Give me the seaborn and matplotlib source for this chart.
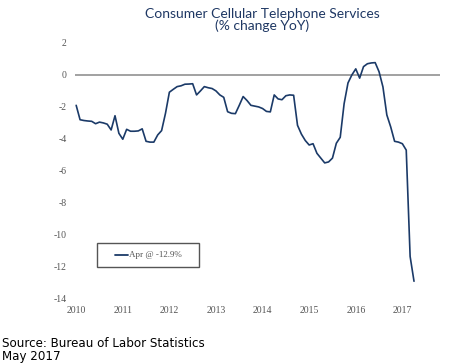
import numpy as np
import pandas as pd
import matplotlib
matplotlib.use("Agg")
import matplotlib.pyplot as plt
import seaborn as sns
from matplotlib.patches import Rectangle

# Monthly YoY % change, Jan 2010 .. Apr 2017
yoy = [
    -1.9, -2.8, -2.85, -2.88, -2.9, -3.05, -2.95, -3.0, -3.08, -3.44, -2.55, -3.65,   # 2010
    -4.02, -3.4, -3.52, -3.52, -3.5, -3.37, -4.15, -4.2, -4.2, -3.75, -3.48, -2.4,    # 2011
    -1.08, -0.9, -0.73, -0.68, -0.58, -0.57, -0.55, -1.25, -1.0, -0.73, -0.8, -0.85,  # 2012
    -1.0, -1.25, -1.4, -2.3, -2.4, -2.42, -1.9, -1.35, -1.6, -1.9, -1.95, -2.0,       # 2013
    -2.1, -2.28, -2.31, -1.25, -1.5, -1.55, -1.3, -1.25, -1.27, -3.15, -3.7, -4.1,    # 2014
    -4.38, -4.3, -4.9, -5.2, -5.5, -5.44, -5.2, -4.27, -3.9, -1.8, -0.5, 0.0,         # 2015
    0.38, -0.2, 0.52, 0.7, 0.75, 0.77, 0.2, -0.75, -2.5, -3.25, -4.15, -4.2,          # 2016
    -4.3, -4.7, -11.35, -12.9,                                                         # 2017
]
start_year = 2010
years = list(range(2010, 2018))
yticks = [2, 0, -2, -4, -6, -8, -10, -12, -14]
title = "Consumer Cellular Telephone Services\n(% change YoY)"
legend_label = "Apr @ -12.9%"
source = "Source: Bureau of Labor Statistics\nMay 2017"

t = [start_year + i / 12 for i in range(len(yoy))]
df = pd.DataFrame({"t": t, "yoy": yoy})

sns.set_theme(style="white")
plt.rcParams["font.family"] = ["DejaVu Sans"]

navy = "#1b3a68"
fig = plt.figure(figsize=(4.5, 3.64), dpi=100)
ax = fig.add_axes([0.167, 0.179, 0.811, 0.703])

ax.axhline(0, color="#9a9a9a", lw=1.3, zorder=1)
sns.lineplot(data=df, x="t", y="yoy", color=navy, lw=1.2, ax=ax, zorder=2)

ax.set_xlim(2010 - 0.022, 2017.81)
ax.set_ylim(-14, 2)
ax.set_yticks(yticks)
ax.set_yticklabels([str(v) for v in yticks], family="Liberation Serif",
                   fontsize=7, color="#555555")
ax.set_xticks(years)
ax.set_xticklabels([str(y) for y in years], family="Liberation Serif",
                   fontsize=7, color="#555555")
ax.tick_params(axis="both", length=0)
ax.tick_params(axis="y", pad=6)
ax.tick_params(axis="x", pad=5)
for s in ax.spines.values():
    s.set_visible(False)
ax.set_xlabel("")
ax.set_ylabel("")

# legend box
ax.add_patch(Rectangle((0.06, 0.125), 0.28, 0.094, transform=ax.transAxes,
                       fill=False, edgecolor="#555555", lw=1.0, zorder=3))
ax.plot([0.109, 0.145], [0.172, 0.172], transform=ax.transAxes, color=navy, lw=1.3)
ax.text(0.147, 0.172, legend_label, transform=ax.transAxes, va="center", ha="left",
        family="Liberation Serif", fontsize=6.5, color="#555555")

fig.text(0.582, 0.979, title, ha="center", va="top", fontsize=10,
         color="#1f3864", family="Lato", linespacing=1.0)
fig.text(0.004, 0.004, source, ha="left", va="bottom", fontsize=8.6,
         color="black", family="DejaVu Sans", linespacing=1.0)

fig.savefig("out.png", dpi=100)
